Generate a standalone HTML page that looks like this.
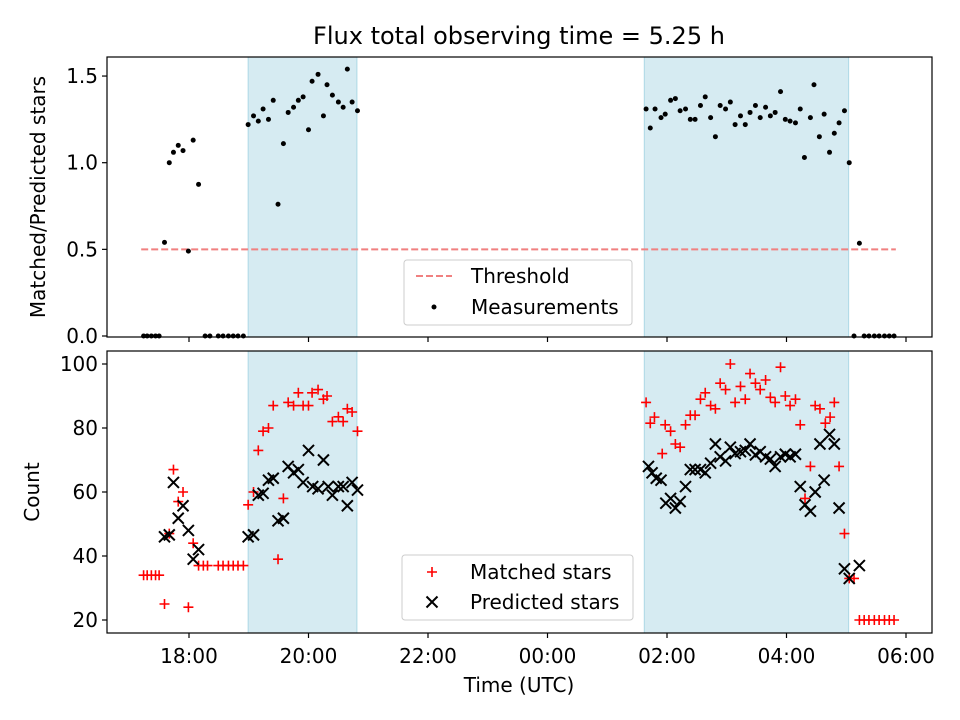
<!DOCTYPE html>
<html><head><meta charset="utf-8"><style>
body{margin:0;background:#fff}
svg{display:block}
svg text{font-family:"DejaVu Sans","Liberation Sans",sans-serif;fill:#000}
</style></head><body>
<svg id="c" width="960" height="720" xmlns="http://www.w3.org/2000/svg"></svg>
<script>
const ratioTimes=[17.24,17.30,17.37,17.44,17.50,17.59,17.67,17.74,17.82,17.90,17.99,18.07,18.16,18.27,18.35,18.49,18.57,18.66,18.74,18.82,18.91,
18.99,19.08,19.16,19.24,19.33,19.41,19.49,19.58,19.66,19.75,19.83,19.91,20.00,20.06,20.16,20.25,20.31,20.40,20.50,20.58,20.65,20.73,20.82,
25.65,25.72,25.80,25.90,25.97,26.06,26.14,26.22,26.31,26.39,26.47,26.56,26.64,26.73,26.81,26.89,26.98,27.06,27.14,27.23,27.31,27.39,27.48,27.56,27.65,27.73,27.81,27.90,27.98,28.06,28.15,28.23,28.30,28.40,28.46,28.55,28.63,28.72,28.80,28.88,28.97,29.05,
29.13,29.22,29.30,29.38,29.47,29.55,29.64,29.72,29.80];
const ratioValues=[0,0,0,0,0,0.54,1.00,1.06,1.10,1.07,0.49,1.13,0.875,0,0,0,0,0,0,0,0,
1.22,1.27,1.24,1.31,1.25,1.36,0.76,1.11,1.29,1.32,1.36,1.38,1.19,1.47,1.51,1.27,1.45,1.39,1.35,1.32,1.54,1.35,1.30,
1.31,1.20,1.31,1.26,1.28,1.36,1.37,1.30,1.31,1.25,1.25,1.33,1.38,1.26,1.15,1.33,1.31,1.35,1.22,1.27,1.22,1.29,1.33,1.26,1.32,1.27,1.29,1.41,1.25,1.24,1.23,1.31,1.03,1.26,1.45,1.15,1.28,1.06,1.17,1.23,1.30,1.00,
0,0.535,0,0,0,0,0,0,0];
const matchedTimes=[17.24,17.30,17.37,17.44,17.50,17.59,17.67,17.74,17.82,17.90,17.99,18.07,18.16,18.24,18.31,18.49,18.57,18.66,18.74,18.82,18.91,
18.99,19.08,19.16,19.24,19.33,19.41,19.49,19.58,19.66,19.75,19.83,19.91,20.00,20.06,20.16,20.25,20.31,20.40,20.50,20.58,20.65,20.73,20.82,
25.65,25.72,25.79,25.92,25.97,26.06,26.14,26.22,26.31,26.39,26.47,26.56,26.64,26.73,26.81,26.89,26.98,27.06,27.14,27.23,27.31,27.39,27.48,27.56,27.65,27.73,27.81,27.90,27.98,28.06,28.15,28.23,28.31,28.40,28.48,28.56,28.65,28.73,28.80,28.88,28.97,29.05,29.13,
29.22,29.30,29.38,29.47,29.55,29.64,29.72,29.80];
const matchedCounts=[34,34,34,34,34,25,47,67,57,60,24,44,37,37,37,37,37,37,37,37,37,
56,60,73,79,80,87,39,58,88,87,91,87,87,91,92,89,90,82,83.5,82,86,85,79,
88,81.5,83.4,72,81,79,75,74,81,84,84,89,91,87,86,94,92,100,88,93,89,97,94,92,95,89.6,88,99,90,87,89,81,58,68,87,86,81.5,83.4,88,68,47,33,33,
20,20,20,20,20,20,20,20];
const predictedTimes=[17.59,17.67,17.74,17.82,17.90,17.99,18.07,18.16,
18.99,19.08,19.16,19.24,19.33,19.41,19.49,19.58,19.66,19.75,19.83,19.91,20.00,20.07,20.16,20.25,20.33,20.40,20.50,20.58,20.65,20.73,20.82,
25.69,25.75,25.82,25.90,25.98,26.06,26.14,26.22,26.31,26.39,26.47,26.56,26.64,26.73,26.81,26.89,26.98,27.06,27.14,27.23,27.31,27.39,27.48,27.56,27.65,27.73,27.81,27.90,27.98,28.06,28.15,28.23,28.31,28.40,28.48,28.56,28.63,28.72,28.80,28.88,28.97,29.05,29.22];
const predictedCounts=[46,46.6,63,51.8,55.7,48,39,42,
46,46.6,59,59.6,63.7,64.3,51,51.8,68,66,67,63,73,61.7,61,70,61.7,59,61.7,61.7,55.7,63,60.6,
68,66,64.3,63.7,56.5,58,55,57,61.7,67,67,67,66,69,75,71,69.7,74,72,72.6,73,75,71.6,72.6,71,70.3,68,71,71.8,71,71.8,61.7,56,54,60,75,63.7,78,75,55,36,33,37];
const xTickHours=[18,20,22,24,26,28,30];
const xTickLabels=["18:00","20:00","22:00","00:00","02:00","04:00","06:00"];
const ratioTicks=[0,0.5,1.0,1.5];
const ratioTickLabels=["0.0","0.5","1.0","1.5"];
const countTicks=[20,40,60,80,100];
const observingSpans=[[18.99,20.81],[25.62,29.04]];
const threshold=0.5;

const svg=document.getElementById('c');
const NS='http://www.w3.org/2000/svg';
function mk(tag,attrs,parent){const e=document.createElementNS(NS,tag);for(const k in attrs)e.setAttribute(k,attrs[k]);(parent||svg).appendChild(e);return e;}
const L=107,R=932;
const X=h=>189+(h-18)*59.75;
const YT=v=>336-v*173.3;
const YB=c=>620-(c-20)*3.2;
const topAx={t:57,b:337},botAx={t:351,b:633};

function axesBg(p,name){
  const g=mk('g',{});
  
  
  observingSpans.forEach(s=>{
    const r=mk('rect',{x:X(s[0]),y:p.t,width:X(s[1])-X(s[0]),height:p.b-p.t,fill:'#add8e6','fill-opacity':0.5,stroke:'#add8e6','stroke-width':1},g);
    
    
  });
  return g;
}
function frame(p,name){
  const r=mk('rect',{x:L,y:p.t,width:R-L,height:p.b-p.t,fill:'none',stroke:'#000','stroke-width':1.2});
  
  
  xTickHours.forEach(h=>{
    mk('line',{x1:X(h),x2:X(h),y1:p.b,y2:p.b+5,stroke:'#000','stroke-width':1.2});
  });
}
axesBg(topAx,'top-axes');
const th=mk('line',{x1:X(17.2),x2:X(29.83),y1:YT(threshold),y2:YT(threshold),stroke:'#f08080','stroke-width':2,'stroke-dasharray':'7,3'});


ratioTimes.forEach((t,i)=>{
  const d=mk('circle',{cx:X(t),cy:YT(ratioValues[i]),r:2.5,fill:'#000'});
  
  
});
frame(topAx,'top-axes-frame');
ratioTicks.forEach((v,i)=>{
  mk('line',{x1:L-5,x2:L,y1:YT(v),y2:YT(v),stroke:'#000','stroke-width':1.2});
  const t=mk('text',{x:L-9,y:YT(v)+7,'text-anchor':'end','font-size':20});t.textContent=ratioTickLabels[i];
  
  
});
axesBg(botAx,'bottom-axes');
matchedTimes.forEach((t,i)=>{
  const x=X(t),y=YB(matchedCounts[i]);
  const p=mk('path',{d:`M${x-5} ${y}H${x+5}M${x} ${y-5}V${y+5}`,stroke:'#ff0000','stroke-width':1.6});
  
  
});
predictedTimes.forEach((t,i)=>{
  const x=X(t),y=YB(predictedCounts[i]);
  const p=mk('path',{d:`M${x-5.5} ${y-5.5}L${x+5.5} ${y+5.5}M${x-5.5} ${y+5.5}L${x+5.5} ${y-5.5}`,stroke:'#000','stroke-width':2});
  
  
});
frame(botAx,'bottom-axes-frame');
countTicks.forEach(v=>{
  mk('line',{x1:L-5,x2:L,y1:YB(v),y2:YB(v),stroke:'#000','stroke-width':1.2});
  const t=mk('text',{x:L-9,y:YB(v)+7,'text-anchor':'end','font-size':20});t.textContent=v;
  
  
});
xTickHours.forEach((h,i)=>{
  const t=mk('text',{x:X(h),y:botAx.b+30,'text-anchor':'middle','font-size':20});t.textContent=xTickLabels[i];
  
  
});
</script>
<svg width="960" height="720" style="position:absolute;left:0;top:0" xmlns="http://www.w3.org/2000/svg">
<text x="519" y="44" text-anchor="middle" font-size="24">Flux total observing time = 5.25 h</text>
<text x="0" y="0" transform="translate(45,197) rotate(-90)" text-anchor="middle" font-size="20">Matched/Predicted stars</text>
<text x="0" y="0" transform="translate(39,492) rotate(-90)" text-anchor="middle" font-size="20">Count</text>
<text x="519" y="692" text-anchor="middle" font-size="20">Time (UTC)</text>
<g>
<rect x="404" y="260" width="228" height="65" rx="3" fill="#fff" fill-opacity="0.8" stroke="#ccc"/>
<line x1="416" x2="452" y1="276" y2="276" stroke="#f08080" stroke-width="2" stroke-dasharray="7,3"/>
<text x="471" y="283" font-size="20">Threshold</text>
<circle cx="434" cy="307" r="2.5" fill="#000"/>
<text x="471" y="314" font-size="20">Measurements</text>
</g>
<g>
<rect x="402" y="555" width="231" height="65" rx="3" fill="#fff" fill-opacity="0.8" stroke="#ccc"/>
<path d="M427 572H437M432 567V577" stroke="#ff0000" stroke-width="1.6"/>
<text x="470" y="579" font-size="20">Matched stars</text>
<path d="M426.5 596.5L437.5 607.5M426.5 607.5L437.5 596.5" stroke="#000" stroke-width="2"/>
<text x="470" y="609" font-size="20">Predicted stars</text>
</g>
</svg>
</body></html>
